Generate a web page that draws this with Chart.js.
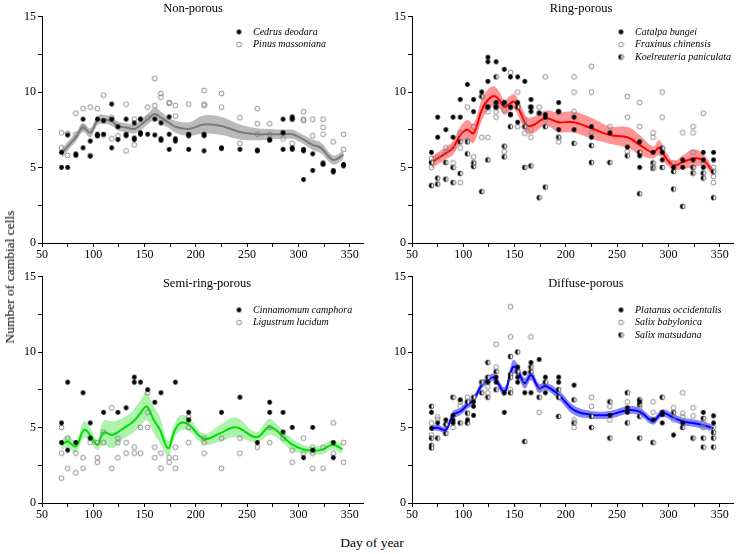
<!DOCTYPE html>
<html>
<head>
<meta charset="utf-8">
<script src="https://cdn.jsdelivr.net/npm/chart.js@4.4.1/dist/chart.umd.min.js"></script>
<style>
  body { margin: 0; background: #fff; }
  #wrap { position: relative; width: 740px; height: 554px; font-family: 'Liberation Serif', serif; color: #000; }
  #wrap canvas { position: absolute; }
  .ytitle { position: absolute; left: 10px; top: 277px; transform: translate(-50%, -50%) rotate(-90deg); white-space: nowrap; font-size: 13.5px; }
  .xtitle { position: absolute; left: 372px; top: 543px; transform: translate(-50%, -50%); white-space: nowrap; font-size: 13.5px; }
</style>
</head>
<body>
<div id="wrap">
  <canvas id="c1" width="368" height="262" style="left:0;top:0"></canvas>
  <canvas id="c2" width="370" height="262" style="left:370px;top:0"></canvas>
  <canvas id="c3" width="368" height="262" style="left:0;top:260px"></canvas>
  <canvas id="c4" width="370" height="262" style="left:370px;top:260px"></canvas>
  <div class="ytitle">Number of cambial cells</div>
  <div class="xtitle">Day of year</div>
</div>
<script>
// ---- Non-porous ----
const cedrus = [[69,6.0],[69,5.0],[75,7.15],[75,5.0],[83,5.9],[83,5.8],[90,8.2],[90,6.3],[97,6.75],[97,5.75],
  [104,8.2],[104,7.2],[104,7.1],[110,8.1],[110,7.2],[118,9.2],[118,8.2],[118,6.3],[124,7.7],[124,6.85],
  [132,8.2],[132,7.2],[132,7.1],[140,7.95],[140,6.85],[140,6.95],[146,8.2],[146,7.3],[146,7.2],[153,7.2],
  [160,8.2],[160,7.15],[166,7.95],[166,6.9],[166,6.8],[174,8.35],[174,7.2],[174,6.2],[180,6.9],[180,6.75],
  [193,7.2],[193,7.1],[193,6.2],[208,7.2],[208,7.1],[208,6.1],[225,6.3],[225,6.25],[243,6.2],[260,6.15],[260,6.1],
  [272,6.85],[272,6.8],[285,8.2],[285,7.3],[285,6.2],[294,8.35],[294,8.2],[294,6.3],[294,6.2],[305,6.2],[305,6.1],[305,4.2],
  [314,5.9],[314,4.8],[324,5.3],[324,5.2],[334,4.8],[334,4.7],[344,5.2],[344,5.1]];
const pinus = [[69,7.3],[69,6.3],[75,5.8],[75,7.25],[83,8.6],[83,7.2],[90,8.9],[90,7.65],[97,9.0],[97,5.8],
  [104,8.9],[104,7.1],[110,9.8],[110,7.15],[118,6.9],[118,8.3],[124,7.1],[132,9.2],[132,6.1],[140,8.2],[140,6.5],
  [146,8.2],[153,9.0],[153,8.3],[160,10.9],[160,9.1],[166,9.9],[166,9.65],[174,9.3],[174,9.25],[180,9.1],[180,8.4],
  [193,9.2],[193,7.15],[208,10.1],[208,9.2],[208,9.1],[225,9.9],[225,9.0],[243,8.3],[243,6.6],[260,8.9],[260,7.9],[260,7.2],
  [272,7.9],[272,7.2],[285,6.9],[285,7.3],[294,8.2],[294,6.6],[305,8.7],[305,8.2],[305,8.1],[314,8.2],[314,7.1],
  [324,8.2],[324,7.65],[324,7.2],[334,6.7],[344,7.2],[344,6.2]];
const nonDays = [69, 75, 83, 90, 97, 104, 110, 118, 124, 132, 140, 146, 153, 160, 166, 174, 180, 193, 208, 225, 243, 260, 272, 285, 294, 305, 314, 322, 334, 344];
const nonFit  = [5.9, 6.4, 7.0, 7.65, 7.3, 8.1, 8.2, 8.05, 7.75, 7.65, 7.55, 7.8, 8.2, 8.55, 8.3, 7.95, 7.7, 7.55, 7.85, 7.75, 7.35, 7.2, 7.2, 7.2, 7.2, 6.85, 6.5, 6.3, 5.5, 5.85];
const nonBand = [0.3, 0.3, 0.3, 0.3, 0.3, 0.3, 0.3, 0.3, 0.3, 0.3, 0.3, 0.35, 0.35, 0.4, 0.4, 0.35, 0.4, 0.45, 0.6, 0.6, 0.5, 0.4, 0.35, 0.3, 0.3, 0.3, 0.35, 0.35, 0.3, 0.3];

// ---- Ring-porous ----
const catalpa = [[69,6.0],[75,8.33],[75,7.0],[83,7.5],[90,8.33],[90,7.0],[97,9.5],[97,8.33],[104,10.5],[110,9.5],[110,8.7],
  [118,10.0],[124,12.3],[124,12.0],[124,10.7],[124,9.0],[132,12.0],[132,9.3],[132,9.0],[140,11.5],[140,9.3],
  [146,11.0],[146,9.0],[146,8.5],[153,11.0],[153,9.3],[153,8.0],[160,10.7],[166,9.5],[166,9.0],[166,8.7],[174,8.6],
  [180,8.5],[180,8.33],[193,9.3],[193,8.7],[193,7.5],[208,8.33],[208,7.5],[225,7.7],[225,7.0],[243,7.3],[260,6.35],
  [272,6.7],[272,5.77],[272,5.0],[285,6.0],[294,6.0],[294,5.5],[305,5.0],[314,5.5],[314,5.0],[324,5.5],
  [334,6.0],[334,5.5],[334,5.0],[344,6.0],[344,5.5]];
const fraxinus = [[69,5.6],[69,5.0],[75,5.7],[83,6.3],[83,6.0],[90,6.3],[90,5.3],[97,7.3],[97,6.3],[97,4.0],[104,9.0],[104,6.8],
  [110,7.7],[110,5.7],[110,5.3],[118,9.7],[118,7.0],[124,8.7],[124,7.0],[132,9.25],[132,8.33],[132,8.7],[140,8.8],[140,6.4],[140,6.05],
  [146,11.3],[146,9.0],[153,10.0],[153,7.7],[160,8.15],[160,7.7],[160,7.27],[166,7.5],[166,7.0],[174,9.0],[174,8.6],
  [180,11.0],[180,8.15],[193,7.0],[193,6.7],[208,11.0],[208,10.0],[208,8.7],[225,11.7],[225,10.0],[225,7.3],[243,7.7],
  [260,9.7],[260,8.33],[260,6.05],[272,9.3],[272,7.7],[285,7.3],[285,7.0],[285,5.07],[294,10.0],[294,8.33],[305,5.3],
  [314,7.3],[324,7.7],[324,7.3],[324,6.0],[334,8.6],[334,5.3],[344,5.0],[344,4.4],[344,4.0]];
const koelreuteria = [[69,5.33],[69,3.8],[75,4.3],[75,3.9],[83,5.33],[83,4.23],[90,5.0],[90,4.0],[97,6.7],[97,4.6],
  [104,6.7],[104,5.9],[110,5.07],[110,5.3],[118,9.7],[118,3.4],[124,9.0],[124,5.5],[132,11.0],[132,9.0],
  [140,6.4],[140,5.7],[140,9.25],[146,7.7],[146,8.5],[153,9.0],[160,7.7],[160,5.0],[166,9.0],[166,5.1],[174,3.0],
  [180,7.7],[180,3.7],[193,7.0],[193,8.7],[208,6.6],[225,6.45],[225,5.33],[243,5.33],[260,5.77],[272,6.0],[272,3.26],
  [285,5.3],[285,4.95],[294,6.28],[294,5.0],[305,4.73],[305,3.57],[314,2.42],[324,5.0],[324,4.63],[334,4.63],[334,4.3],
  [344,4.73],[344,3.0]];
const ringDays = [69, 75, 83, 90, 97, 104, 110, 118, 124, 130, 135, 140, 146, 150, 156, 162, 168, 180, 193, 208, 225, 243, 260, 272, 285, 291, 298, 305, 314, 324, 334, 344];
const ringFit  = [5.33, 5.6, 5.95, 6.3, 7.15, 7.5, 7.27, 8.8, 9.47, 9.73, 9.47, 9.0, 9.25, 9.36, 8.6, 7.8, 7.8, 8.26, 8.0, 8.0, 7.6, 7.15, 7.0, 6.5, 6.0, 6.3, 5.6, 5.15, 5.35, 5.6, 5.5, 4.65];
const ringBand = [0.4, 0.4, 0.4, 0.45, 0.55, 0.65, 0.65, 0.7, 0.7, 0.65, 0.55, 0.5, 0.5, 0.5, 0.55, 0.55, 0.55, 0.5, 0.65, 0.7, 0.7, 0.57, 0.7, 0.65, 0.4, 0.5, 0.4, 0.3, 0.45, 0.6, 0.4, 0.25];

// ---- Semi-ring-porous ----
const cinnamomum = [[69,5.3],[69,4.0],[75,8.0],[75,3.5],[83,4.0],[90,7.3],[97,5.3],[97,4.3],[110,6.0],[124,6.0],[132,6.3],
  [140,8.33],[140,8.0],[146,8.0],[153,7.5],[160,6.67],[166,7.3],[180,8.0],[193,6.0],[193,5.5],[225,6.0],[243,7.0],[260,4.0],
  [272,6.67],[272,6.0],[285,6.0],[285,4.7],[294,5.0],[305,3.0],[314,5.0],[314,3.5],[334,4.0],[334,3.0]];
const ligustrum = [[69,5.0],[69,3.3],[69,1.65],[75,4.3],[75,2.3],[83,3.3],[83,2.0],[90,3.0],[90,2.3],[97,4.0],
  [104,4.0],[104,3.0],[104,2.7],[110,4.7],[110,4.0],[118,6.3],[118,2.3],[124,4.3],[124,4.0],[124,3.0],[132,4.0],[132,3.3],
  [140,3.7],[140,3.3],[146,5.0],[146,3.3],[153,7.3],[153,6.0],[153,5.0],[160,3.7],[160,3.0],[166,3.3],[166,2.3],
  [174,3.0],[174,2.7],[180,3.7],[180,3.0],[180,2.3],[193,5.7],[193,5.0],[193,4.0],[208,4.3],[208,4.0],[208,3.3],
  [225,4.3],[225,2.3],[243,4.3],[243,3.3],[260,3.7],[272,5.0],[272,4.0],[285,4.3],[294,3.5],[294,2.7],[305,4.3],[305,3.3],
  [314,3.7],[314,3.3],[314,2.3],[324,3.7],[324,2.3],[334,5.3],[334,3.3],[344,4.0],[344,2.7]];
const semiDays = [69, 75, 83, 91, 97, 104, 110, 118, 124, 131, 139, 146, 152, 159, 165, 173, 179, 185, 193, 208, 224, 239, 259, 271, 278, 284, 293, 304, 313, 323, 333, 343];
const semiFit  = [3.85, 4.07, 3.75, 4.85, 4.5, 3.85, 4.67, 4.51, 4.7, 5.02, 5.4, 5.95, 6.39, 5.5, 4.84, 3.63, 4.73, 5.29, 5.2, 4.25, 4.63, 5.02, 4.36, 5.02, 4.84, 4.45, 3.92, 3.57, 3.48, 3.52, 3.85, 3.57];
const semiBand = [0.35, 0.4, 0.4, 0.55, 0.45, 0.35, 0.8, 0.9, 0.8, 0.7, 0.75, 0.85, 0.9, 0.9, 0.85, 0.5, 0.45, 0.5, 0.45, 0.35, 0.55, 0.65, 0.35, 0.55, 0.45, 0.4, 0.4, 0.3, 0.25, 0.3, 0.3, 0.3];

// ---- Diffuse-porous ----
const platanus = [[69,6.0],[69,4.95],[75,5.3],[83,5.5],[90,5.8],[90,5.5],[90,5.3],[97,6.83],[104,5.5],[110,6.7],[110,6.4],[110,5.8],
  [124,8.0],[132,8.33],[132,8.0],[140,7.3],[140,6.0],[153,9.0],[153,8.33],[153,8.0],[160,8.6],[160,7.3],[166,9.3],[166,7.3],
  [174,9.5],[180,8.33],[180,7.3],[193,8.33],[193,8.0],[208,7.8],[243,5.8],[260,6.3],[260,6.0],[272,6.7],[285,5.5],
  [294,6.0],[294,5.85],[294,5.3],[305,4.5],[314,5.3],[334,6.0],[344,5.77],[344,5.3]];
const babylonica = [[69,5.3],[69,4.5],[75,5.7],[75,5.55],[90,5.0],[97,6.7],[97,6.4],[104,7.0],[110,7.0],[118,8.0],[124,7.7],[124,7.3],
  [132,10.5],[132,9.0],[146,13.0],[146,11.0],[146,7.5],[160,8.0],[166,11.0],[174,7.5],[174,6.0],[208,5.5],[208,5.0],
  [225,7.0],[225,6.4],[243,6.4],[243,5.5],[260,6.7],[272,6.3],[285,6.7],[285,6.0],[305,6.3],[305,5.95],[305,5.5],
  [314,7.3],[314,5.95],[314,5.7],[324,6.3],[324,5.77],[334,5.3],[334,5.0],[344,5.0]];
const matsudana = [[69,6.4],[69,4.3],[69,3.8],[69,3.65],[75,4.3],[83,5.2],[83,4.6],[90,7.0],[97,5.3],[104,6.7],[104,5.95],[104,5.3],
  [110,7.0],[118,8.0],[118,7.3],[124,9.3],[124,8.33],[124,7.0],[132,8.7],[132,7.5],[146,9.7],[146,8.5],[146,8.33],[146,7.3],
  [153,10.0],[153,8.7],[160,4.07],[166,8.7],[166,9.0],[174,7.0],[180,8.0],[193,7.5],[193,7.0],[193,5.73],[208,6.83],[208,5.3],
  [225,5.73],[225,5.0],[243,6.7],[243,4.3],[260,7.3],[260,5.3],[272,6.83],[272,6.5],[272,5.73],[272,4.3],[285,4.0],[294,7.0],
  [305,6.0],[314,5.0],[324,4.3],[334,5.6],[334,4.3],[334,3.7],[344,4.67],[344,4.3],[344,3.7]];
const diffDays = [69, 75, 83, 90, 97, 104, 110, 118, 124, 130, 140, 146, 149, 153, 160, 166, 174, 180, 193, 208, 225, 243, 260, 272, 285, 294, 305, 314, 324, 334, 344];
const diffFit  = [4.96, 4.98, 4.85, 5.84, 6.06, 6.5, 6.83, 7.82, 8.15, 8.3, 7.38, 8.6, 9.03, 8.8, 7.93, 8.48, 7.6, 7.75, 7.16, 6.15, 5.85, 5.85, 6.15, 6.05, 5.45, 5.95, 5.65, 5.4, 5.3, 5.15, 4.95];
const diffBand = [0.2, 0.2, 0.2, 0.25, 0.25, 0.25, 0.25, 0.25, 0.25, 0.25, 0.3, 0.4, 0.45, 0.4, 0.35, 0.35, 0.3, 0.25, 0.3, 0.3, 0.25, 0.25, 0.25, 0.25, 0.25, 0.25, 0.25, 0.25, 0.25, 0.25, 0.2];

const xTicks = [50, 100, 150, 200, 250, 300, 350];
const yTicks = [0, 5, 10, 15];

Chart.defaults.font.family = "'Liberation Serif', 'Times New Roman', serif";
Chart.defaults.font.size = 12;
Chart.defaults.color = '#000';

function marker(kind) {
  const c = document.createElement('canvas');
  c.width = 7; c.height = 7;
  const g = c.getContext('2d');
  g.beginPath();
  g.arc(3.5, 3.5, 2.4, 0, Math.PI * 2);
  if (kind === 'filled') {
    g.fillStyle = '#000'; g.fill();
  } else if (kind === 'open') {
    g.strokeStyle = '#808080'; g.lineWidth = 0.9; g.stroke();
  } else {
    g.fillStyle = '#fff'; g.fill();
    g.strokeStyle = '#333'; g.lineWidth = 0.8; g.stroke();
    g.beginPath();
    g.arc(3.5, 3.5, 2.4, Math.PI / 2, Math.PI * 1.5);
    g.closePath();
    g.fillStyle = '#000'; g.fill();
  }
  return c;
}
const marks = { filled: marker('filled'), open: marker('open'), half: marker('half') };

// titles and in-plot legends
const decor = {
  id: 'decor',
  afterDraw(chart, args, o) {
    const g = chart.ctx;
    g.save();
    g.fillStyle = '#000';
    g.textBaseline = 'middle';
    g.font = "12.5px 'Liberation Serif'";
    g.textAlign = 'center';
    g.fillText(o.title, o.titleX, o.titleY);
    g.font = "italic 10px 'Liberation Serif'";
    g.textAlign = 'left';
    o.items.forEach((it, i) => {
      const y = o.legendY + i * 12.5;
      g.drawImage(marks[it.kind], o.markX - 3.5, y - 3.5);
      g.fillText(it.label, o.textX, y);
    });
    g.restore();
  }
};

function toXY(pairs) { return pairs.map(([x, y]) => ({ x, y })); }

function makePanel(id, p) {
  const datasets = [];
  p.species.forEach((s) => {
    datasets.push({
      type: 'scatter', label: s.label, data: toXY(s.data),
      pointStyle: marks[s.kind], pointRadius: 3, order: 1
    });
  });
  datasets.push({
    type: 'line', label: 'upper', order: 3,
    data: p.days.map((d, i) => ({ x: d, y: p.fit[i] + p.band[i] })),
    borderWidth: 0, pointRadius: 0, tension: 0.4, fill: false
  });
  datasets.push({
    type: 'line', label: 'lower', order: 3,
    data: p.days.map((d, i) => ({ x: d, y: p.fit[i] - p.band[i] })),
    borderWidth: 0, pointRadius: 0, tension: 0.4, fill: '-1', backgroundColor: p.bandColor
  });
  datasets.push({
    type: 'line', label: 'fit', order: 2,
    data: p.days.map((d, i) => ({ x: d, y: p.fit[i] })),
    borderColor: p.lineColor, borderWidth: 2, pointRadius: 0, tension: 0.4, fill: false
  });

  return new Chart(document.getElementById(id), {
    type: 'scatter',
    data: { datasets },
    options: {
      responsive: false,
      animation: false,
      events: [],
      layout: { padding: { top: 16.5, right: p.padRight, left: 0, bottom: 0 } },
      plugins: {
        legend: { display: false },
        tooltip: { enabled: false },
        decor: p.decor
      },
      scales: {
        x: {
          type: 'linear', min: 50, max: 363,
          afterFit: (s) => { s.height = 19; },
          ticks: { stepSize: 25, includeBounds: false, autoSkip: false, maxRotation: 0, padding: 1,
            callback: (v) => (xTicks.includes(v) ? v : '') },
          grid: { display: true, drawOnChartArea: false, tickLength: 4, color: '#000' },
          border: { display: true, color: '#000', width: 1 }
        },
        y: {
          type: 'linear', min: 0, max: 15,
          afterFit: (s) => { s.width = 42; },
          ticks: { stepSize: 2.5, autoSkip: false, padding: 2,
            callback: (v) => (yTicks.includes(v) ? v : '') },
          grid: { display: true, drawOnChartArea: false, tickLength: 4, color: '#000' },
          border: { display: true, color: '#000', width: 1 }
        }
      }
    },
    plugins: [decor]
  });
}

makePanel('c1', {
  species: [
    { label: 'Cedrus deodara', kind: 'filled', data: cedrus },
    { label: 'Pinus massoniana', kind: 'open', data: pinus }
  ],
  days: nonDays, fit: nonFit, band: nonBand,
  lineColor: '#7a7a7a', bandColor: 'rgba(140,140,140,0.6)', padRight: 5,
  decor: { title: 'Non-porous', titleX: 193, titleY: 9, markX: 239, textX: 253, legendY: 32,
    items: [{ kind: 'filled', label: 'Cedrus deodara' }, { kind: 'open', label: 'Pinus massoniana' }] }
});

makePanel('c2', {
  species: [
    { label: 'Catalpa bungei', kind: 'filled', data: catalpa },
    { label: 'Fraxinus chinensis', kind: 'open', data: fraxinus },
    { label: 'Koelreuteria paniculata', kind: 'half', data: koelreuteria }
  ],
  days: ringDays, fit: ringFit, band: ringBand,
  lineColor: '#ff0000', bandColor: 'rgba(255,0,0,0.42)', padRight: 7,
  decor: { title: 'Ring-porous', titleX: 211, titleY: 9, markX: 251, textX: 265, legendY: 32,
    items: [{ kind: 'filled', label: 'Catalpa bungei' }, { kind: 'open', label: 'Fraxinus chinensis' },
      { kind: 'half', label: 'Koelreuteria paniculata' }] }
});

makePanel('c3', {
  species: [
    { label: 'Cinnamomum camphora', kind: 'filled', data: cinnamomum },
    { label: 'Ligustrum lucidum', kind: 'open', data: ligustrum }
  ],
  days: semiDays, fit: semiFit, band: semiBand,
  lineColor: '#00dd00', bandColor: 'rgba(40,220,40,0.38)', padRight: 5,
  decor: { title: 'Semi-ring-porous', titleX: 207, titleY: 24, markX: 239, textX: 253, legendY: 50,
    items: [{ kind: 'filled', label: 'Cinnamomum camphora' }, { kind: 'open', label: 'Ligustrum lucidum' }] }
});

makePanel('c4', {
  species: [
    { label: 'Platanus occidentalis', kind: 'filled', data: platanus },
    { label: 'Salix babylonica', kind: 'open', data: babylonica },
    { label: 'Salix matsudana', kind: 'half', data: matsudana }
  ],
  days: diffDays, fit: diffFit, band: diffBand,
  lineColor: '#0000ff', bandColor: 'rgba(0,0,255,0.48)', padRight: 7,
  decor: { title: 'Diffuse-porous', titleX: 216, titleY: 24, markX: 251, textX: 265, legendY: 50,
    items: [{ kind: 'filled', label: 'Platanus occidentalis' }, { kind: 'open', label: 'Salix babylonica' },
      { kind: 'half', label: 'Salix matsudana' }] }
});
</script>
</body>
</html>
